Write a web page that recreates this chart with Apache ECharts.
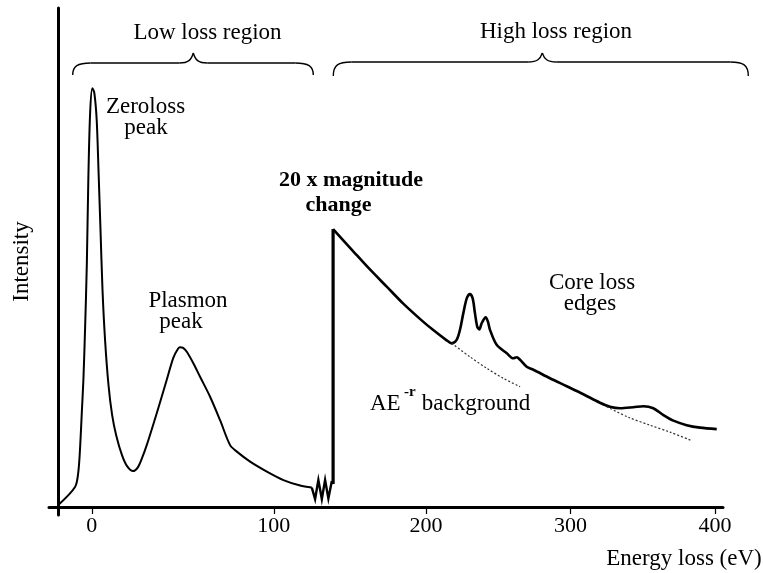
<!DOCTYPE html>
<html>
<head>
<meta charset="utf-8">
<script src="https://cdn.jsdelivr.net/npm/echarts@6/dist/echarts.min.js"></script>
<style>html,body{margin:0;padding:0;background:#fff;}#c{width:763px;height:573px;}</style>
</head>
<body>
<div id="c"></div>
<script>
// ---- data (energy loss in eV, intensity in arbitrary display units) ----
const lowTicks = [0, 100];
const highTicks = [200, 300, 400];
const lowLossPeaks = [[-18.4,0.4],[-9.2,4.0],[-7.4,7.0],[-6.4,12.0],[-5.5,18.8],[-4.6,25.5],[-3.7,35.5],[-2.7,48.9],[-1.9,65.5],[-0.9,79.0],[0.3,83.9],[1.4,83.0],[2.7,77.6],[3.7,67.5],[4.8,55.5],[5.9,43.5],[7.3,33.5],[9.2,24.4],[11.2,18.4],[13.4,14.4],[16.6,10.4],[19.4,8.2],[22.7,7.2],[25.4,8.0],[27.6,9.8],[30.2,12.4],[35.7,18.8],[41.2,25.5],[44.8,29.9],[47.4,31.7],[48.5,32.0],[50.2,31.9],[52.2,31.1],[55.8,28.8],[59.5,26.1],[65.0,22.1],[70.5,17.4],[76.0,12.4],[79.7,11.1],[87.0,9.1],[96.2,7.1],[105.3,5.4],[114.5,4.3],[120.9,3.9]];
const axisBreak = [[120.9,3.9],[122.7,1.6],[124.5,5.4],[126.4,1.6],[128.2,5.4],[130.0,1.7],[131.9,5.2]];
const magnitudeJump = [[135.7,4.6],[135.7,55.7]];
const highLossEdges = [[135.7,55.7],[149.5,51.3],[161.2,47.6],[173.0,44.1],[184.1,40.8],[195.8,37.7],[204.8,35.5],[214.3,33.4],[217.8,32.8],[221.2,33.5],[223.5,35.5],[225.8,38.8],[228.2,41.8],[230.4,42.7],[232.3,41.8],[233.9,38.8],[235.5,36.1],[236.9,35.6],[238.5,36.8],[241.3,38.0],[242.9,37.1],[244.3,35.5],[248.9,32.5],[255.9,30.8],[260.4,29.8],[262.8,30.0],[265.1,29.5],[269.7,28.1],[274.3,27.5],[285.8,25.8],[297.4,24.2],[308.9,22.6],[320.4,20.9],[327.3,20.1],[334.3,19.8],[343.5,20.0],[350.4,20.2],[357.3,19.8],[364.3,18.4],[371.2,17.3],[380.4,16.4],[389.6,15.9],[401.2,15.6]];
const bgFit1 = [[217.8,32.8],[230.4,30.1],[242.0,27.8],[253.5,25.8],[265.1,24.1]];
const bgFit2 = [[325.1,20.1],[339.9,18.0],[355.0,16.4],[368.9,15.0],[383.9,13.3]];

const FONT = '"Liberation Serif", "Times New Roman", serif';
const chart = echarts.init(document.getElementById('c'), null, {renderer: 'canvas'});

function txt(text, x, y, size, bold, align) {
  return {
    type: 'text',
    style: {
      text: text, x: x, y: y,
      font: (bold ? 'bold ' : '') + size + 'px ' + FONT,
      fill: '#000',
      textAlign: align || 'center', align: align || 'center',
      textVerticalAlign: 'middle', verticalAlign: 'middle'
    },
    z: 10
  };
}
const braceStyle = {stroke: '#000', fill: null, lineWidth: 1.4};
function bz(x1, y1, cpx1, cpy1, cpx2, cpy2, x2, y2) {
  return {type: 'bezierCurve', shape: {x1, y1, cpx1, cpy1, cpx2, cpy2, x2, y2}, style: braceStyle, z: 10};
}
function ln(x1, y1, x2, y2) {
  return {type: 'line', shape: {x1, y1, x2, y2}, style: braceStyle, z: 10};
}
function brace(x0, xc, x1, yEnd, yH, yC) {
  return [
    bz(x0, yEnd, x0, yH + 3, x0 + 5, yH, x0 + 18, yH),
    ln(x0 + 18, yH, xc - 14, yH),
    bz(xc - 14, yH, xc - 5, yH, xc - 2, yH - 3, xc, yC),
    bz(xc, yC, xc + 2, yH - 3, xc + 5, yH, xc + 14, yH),
    ln(xc + 14, yH, x1 - 18, yH),
    bz(x1 - 18, yH, x1 - 5, yH, x1, yH + 3, x1, yEnd)
  ];
}

const lineBase = {type: 'line', showSymbol: false, symbol: 'none', clip: false, animation: false};

chart.setOption({
  animation: false,
  backgroundColor: '#fff',
  grid: [
    {left: 49, top: 8, width: 284, height: 507},
    {left: 333, top: 8, width: 390, height: 499}
  ],
  xAxis: [
    {
      type: 'value', gridIndex: 0, min: -23.5, max: 132.54,
      axisLine: {show: true, onZero: true, lineStyle: {color: '#000', width: 3}},
      axisTick: {show: true, customValues: lowTicks, length: 7, lineStyle: {color: '#000', width: 1.2}},
      axisLabel: {customValues: lowTicks, fontFamily: FONT, fontSize: 22, color: '#000', margin: 0},
      splitLine: {show: false}
    },
    {
      type: 'value', gridIndex: 1, min: 135.64, max: 405.54,
      axisLine: {show: true, onZero: false, lineStyle: {color: '#000', width: 3}},
      axisTick: {show: true, customValues: highTicks, length: 7, lineStyle: {color: '#000', width: 1.2}},
      axisLabel: {customValues: highTicks, fontFamily: FONT, fontSize: 22, color: '#000', margin: 8},
      splitLine: {show: false}
    }
  ],
  yAxis: [
    {
      type: 'value', gridIndex: 0, min: -1.6, max: 100, offset: -9,
      axisLine: {show: true, onZero: false, lineStyle: {color: '#000', width: 3}},
      axisTick: {show: false}, axisLabel: {show: false}, splitLine: {show: false},
      name: 'Intensity', nameLocation: 'middle', nameRotate: 90, nameGap: 25,
      nameTextStyle: {fontFamily: FONT, fontSize: 23, color: '#000'}
    },
    {
      type: 'value', gridIndex: 1, min: 0, max: 100, show: false,
      splitLine: {show: false}
    }
  ],
  series: [
    Object.assign({}, lineBase, {name: 'low loss', xAxisIndex: 0, yAxisIndex: 0, smooth: 0.3, data: lowLossPeaks, lineStyle: {color: '#000', width: 2}}),
    Object.assign({}, lineBase, {name: 'break', xAxisIndex: 0, yAxisIndex: 0, smooth: false, data: axisBreak, lineStyle: {color: '#000', width: 2.4, join: 'miter'}}),
    Object.assign({}, lineBase, {name: 'jump', xAxisIndex: 1, yAxisIndex: 1, smooth: false, data: magnitudeJump, lineStyle: {color: '#000', width: 3.2}}),
    Object.assign({}, lineBase, {name: 'high loss', xAxisIndex: 1, yAxisIndex: 1, smooth: 0.3, data: highLossEdges, lineStyle: {color: '#000', width: 2.6}}),
    Object.assign({}, lineBase, {name: 'background 1', xAxisIndex: 1, yAxisIndex: 1, smooth: 0.3, data: bgFit1, lineStyle: {color: '#333', width: 1.2, type: [2, 2]}}),
    Object.assign({}, lineBase, {name: 'background 2', xAxisIndex: 1, yAxisIndex: 1, smooth: 0.3, data: bgFit2, lineStyle: {color: '#333', width: 1.2, type: [2, 2]}})
  ],
  graphic: [].concat(
    brace(72.7, 193.3, 313.3, 75, 63, 53),
    brace(333.3, 542.3, 748.3, 76, 62, 53),
    [
      txt('Low loss region', 207.5, 32.6, 23),
      txt('High loss region', 556, 32, 23),
      txt('Zeroloss', 145.5, 106.6, 23),
      txt('peak', 146, 127.6, 23),
      txt('Plasmon', 188, 301, 23),
      txt('peak', 181, 322, 23),
      txt('20 x magnitude', 351, 180.6, 22, true),
      txt('change', 338.5, 205.6, 22, true),
      txt('Core loss', 592, 283, 23),
      txt('edges', 590, 304, 23),
      txt('AE', 370, 404.3, 23, false, 'left'),
      txt('-r', 404, 392, 15, true, 'left'),
      txt(' background', 416, 404.3, 23, false, 'left'),
      txt('Energy loss (eV)', 684, 558.6, 23)
    ]
  )
});
</script>
</body>
</html>
